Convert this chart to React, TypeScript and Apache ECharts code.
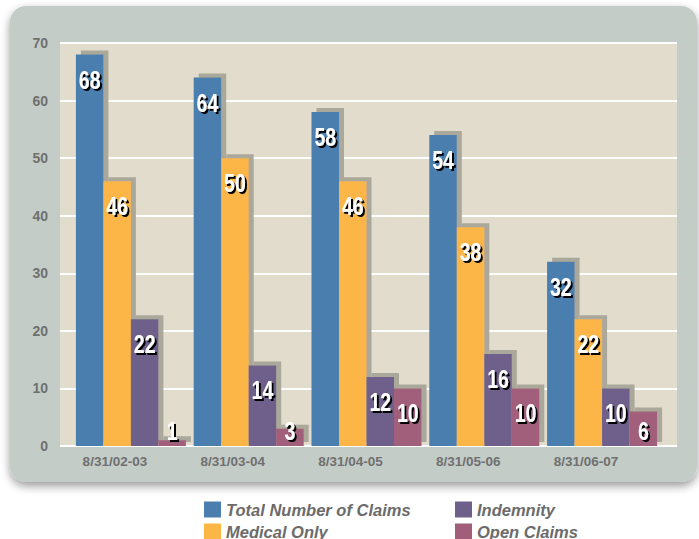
import React, { useEffect, useRef } from "react";
import * as echarts from "echarts";

const categories = ["8/31/02-03", "8/31/03-04", "8/31/04-05", "8/31/05-06", "8/31/06-07"];
const totalClaims = [68, 64, 58, 54, 32];
const medicalOnly = [46, 50, 46, 38, 22];
const indemnity = [22, 14, 12, 16, 10];
const openClaims = [1, 3, 10, 10, 6];
const seriesNames = ["Total Number of Claims", "Medical Only", "Indemnity", "Open Claims"];
const seriesValues = [totalClaims, medicalOnly, indemnity, openClaims];
const seriesColors = ["#4a7eae", "#fbb646", "#6e608a", "#a15e7b"];
const yMin = 0;
const yMax = 70;
const yInterval = 10;

const sansFont = "'Liberation Sans', Arial, sans-serif";
const grayText = "#707070";
const BAR_WIDTH = 27.5;

export default function App() {
  const ref = useRef<HTMLDivElement>(null);
  useEffect(() => {
    if (!ref.current) return;
    const chart = echarts.init(ref.current, null, { renderer: "svg" });
    const legendText = {
      color: "#6b6b6b",
      fontSize: 16.5,
      fontWeight: "bold",
      fontStyle: "italic",
      fontFamily: sansFont,
      lineHeight: 12,
      padding: [0, 0, 4, 0],
    };
    const legendBase = {
      orient: "vertical",
      top: 501,
      height: 60,
      padding: 0,
      itemWidth: 17,
      itemHeight: 16,
      itemGap: 5,
      icon: "rect",
      textStyle: legendText,
      selectedMode: false,
    };
    const barSeries = seriesNames.map((name, i) => ({
      type: "bar",
      name,
      xAxisIndex: 1,
      yAxisIndex: 1,
      barWidth: BAR_WIDTH,
      barGap: "0%",
      data: seriesValues[i],
      itemStyle: {
        color: seriesColors[i],
        shadowColor: "#aaa89a",
        shadowOffsetX: 5,
        shadowOffsetY: -4,
        shadowBlur: 0,
      },
      emphasis: { disabled: true },
      z: 2,
    }));
    const labelSeries = seriesValues.map((vals, i) => ({
      type: "custom",
      xAxisIndex: 1,
      yAxisIndex: 1,
      z: 5,
      silent: true,
      data: vals.map((v, j) => [j, v]),
      encode: { x: 0, y: 1 },
      renderItem: (_params: any, api: any) => {
        const cat = api.value(0);
        const v = api.value(1);
        const base = api.coord([cat, 0]);
        const top = api.coord([cat, v]);
        const x = base[0] + (i - 1.5) * BAR_WIDTH;
        const y = v < 8 ? base[1] - 15 : top[1] + 25;
        return {
          type: "text",
          x,
          y,
          scaleX: 0.75,
          style: {
            text: String(v),
            fill: "#ffffff",
            font: "bold 26px 'Liberation Sans', Arial, sans-serif",
            textAlign: "center",
            textVerticalAlign: "middle",
            textShadowColor: "#000000",
            textShadowBlur: 0.1,
            textShadowOffsetX: 2,
            textShadowOffsetY: 2,
          },
        };
      },
    }));
    chart.setOption({
      animation: false,
      backgroundColor: "#ffffff",
      graphic: [
        {
          type: "rect",
          z: -10,
          shape: { x: 10, y: 6, width: 687, height: 476, r: 16 },
          style: {
            fill: "#c3ccc7",
            shadowBlur: 10,
            shadowColor: "rgba(0,0,0,0.4)",
            shadowOffsetY: 4,
          },
        },
      ],
      grid: [
        { left: 60, right: 22, top: 43, bottom: 93, show: true, backgroundColor: "#e1dccb", borderWidth: 0 },
        { left: 72, right: 38, top: 43, bottom: 93 },
      ],
      xAxis: [
        { gridIndex: 0, type: "category", data: categories, show: false },
        {
          gridIndex: 1,
          type: "category",
          data: categories,
          axisLine: { show: false },
          axisTick: { show: false },
          axisLabel: {
            color: grayText,
            fontSize: 13.5,
            fontWeight: "bold",
            fontFamily: sansFont,
            margin: 8,
            padding: [0, 32, 0, 0],
          },
        },
      ],
      yAxis: [
        {
          gridIndex: 0,
          type: "value",
          min: yMin,
          max: yMax,
          interval: yInterval,
          axisLine: { show: false },
          axisTick: { show: false },
          axisLabel: { color: grayText, fontSize: 14, fontWeight: "bold", fontFamily: sansFont, margin: 12 },
          splitLine: { show: true, lineStyle: { color: "#ffffff", width: 2 } },
        },
        { gridIndex: 1, type: "value", min: yMin, max: yMax, interval: yInterval, show: false },
      ],
      legend: [
        { ...legendBase, left: 204, data: [seriesNames[0], seriesNames[1]] },
        { ...legendBase, left: 455, data: [seriesNames[2], seriesNames[3]] },
      ],
      series: [...barSeries, ...labelSeries],
    });
    return () => chart.dispose();
  }, []);
  return <div ref={ref} style={{ position: "absolute", left: 0, top: 0, width: 699, height: 539 }} />;
}
